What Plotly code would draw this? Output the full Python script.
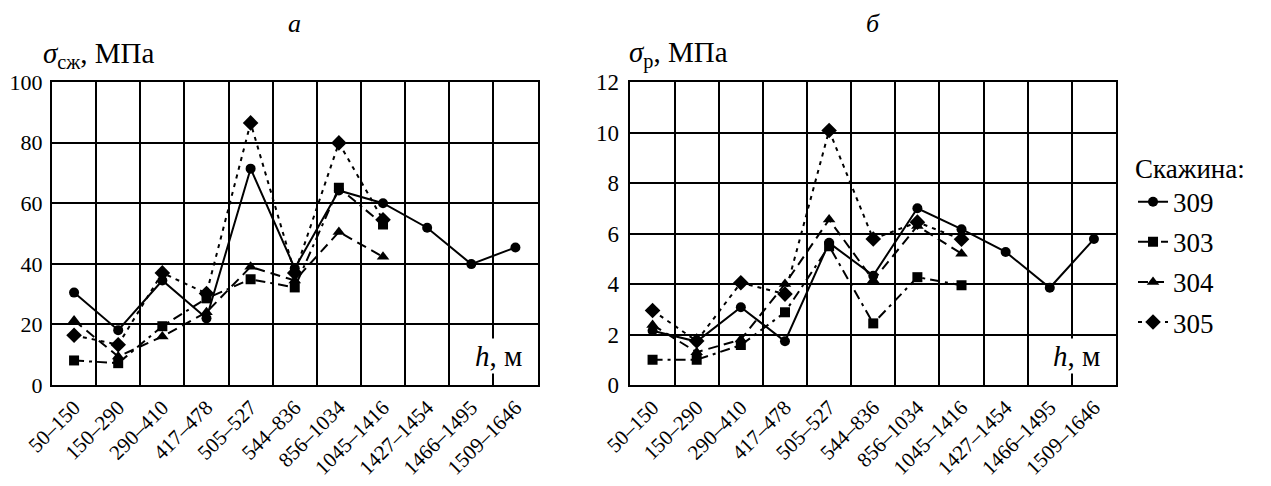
import plotly.graph_objects as go
from plotly.subplots import make_subplots

categories = ["50–150", "150–290", "290–410", "417–478", "505–527", "544–836",
              "856–1034", "1045–1416", "1427–1454", "1466–1495", "1509–1646"]

# compressive strength, MPa (panel a)
comp_309 = [30.5, 18.1, 34.5, 22.0, 71.4, 38.5, 64.2, 60.0, 51.9, 39.9, 45.4]
comp_303 = [8.1, 7.2, 19.4, 28.6, 34.9, 32.2, 65.1, 53.0]
comp_304 = [21.3, 9.4, 16.0, 24.0, 39.0, 34.5, 50.5, 42.3]
comp_305 = [16.4, 13.3, 37.0, 30.2, 86.5, 37.0, 79.9, 54.5]

# tensile strength, MPa (panel b)
tens_309 = [2.15, 1.72, 3.08, 1.73, 5.63, 4.33, 7.0, 6.17, 5.27, 3.85, 5.78]
tens_303 = [1.0, 1.0, 1.58, 2.88, 5.5, 2.44, 4.27, 3.95]
tens_304 = [2.38, 1.3, 1.8, 4.0, 6.55, 4.15, 6.3, 5.2]
tens_305 = [2.95, 1.74, 4.05, 3.6, 10.08, 5.78, 6.45, 5.77]

wells = ["309", "303", "304", "305"]
symbols = ["circle", "square", "triangle-up", "diamond"]
sizes = [10, 10, 11, 12]
dashes = ["solid", "10px,5px,3px,5px", "10px,6px", "4px,5px"]

FONT = "Liberation Serif"

fig = make_subplots(rows=1, cols=2, horizontal_spacing=0.0874)

for i, (name, a, b) in enumerate(zip(wells, [comp_309, comp_303, comp_304, comp_305],
                                     [tens_309, tens_303, tens_304, tens_305])):
    style = dict(mode="lines+markers",
                 line=dict(color="black", width=2, dash=dashes[i]),
                 marker=dict(symbol=symbols[i], size=sizes[i], color="black"))
    fig.add_trace(go.Scatter(x=categories[:len(a)], y=a, name=name, legendgroup=name,
                             showlegend=True, **style), row=1, col=1)
    fig.add_trace(go.Scatter(x=categories[:len(b)], y=b, name=name, legendgroup=name,
                             showlegend=False, **style), row=1, col=2)

xcommon = dict(type="category", categoryorder="array", categoryarray=categories,
               tickson="boundaries", showgrid=True, gridcolor="black", gridwidth=1.6,
               showline=True, linecolor="black", linewidth=2, mirror=True,
               ticks="", tickangle=-45, tickfont=dict(family=FONT, size=21, color="black"),
               range=[-0.5, 10.5], zeroline=False, automargin=False)
ycommon = dict(showgrid=True, gridcolor="black", gridwidth=1.6,
               showline=True, linecolor="black", linewidth=2, mirror=True,
               ticks="", ticklabelstandoff=5, zeroline=False, automargin=False,
               tickfont=dict(family=FONT, size=23, color="black"))

fig.update_xaxes(**xcommon)
fig.update_yaxes(**ycommon)
fig.update_yaxes(range=[0, 100], dtick=20, ticklabelstandoff=3,
                 tickfont=dict(family=FONT, size=22, color="black"), row=1, col=1)
fig.update_yaxes(range=[0, 12], dtick=2, row=1, col=2)

title_font = dict(family=FONT, size=26, color="black")
ann_font = dict(family=FONT, size=29, color="black")
annotations = [
    dict(text="<i>а</i>", xref="x domain", yref="paper", x=0.5, y=1, yshift=42,
         xanchor="center", yanchor="bottom", showarrow=False, font=title_font),
    dict(text="<i>б</i>", xref="x2 domain", yref="paper", x=0.5, y=1, yshift=42,
         xanchor="center", yanchor="bottom", showarrow=False, font=title_font),
    dict(text="<i>σ</i><sub>сж</sub>, МПа", xref="x domain", yref="paper", x=0, y=1,
         xshift=-11, yshift=7, xanchor="left", yanchor="bottom", showarrow=False, font=ann_font),
    dict(text="<i>σ</i><sub>р</sub>, МПа", xref="x2 domain", yref="paper", x=0, y=1,
         xshift=-3, yshift=7, xanchor="left", yanchor="bottom", showarrow=False, font=ann_font),
    dict(text="<i>h</i>, м", xref="x domain", yref="paper", x=1, y=0, xshift=-14, yshift=11,
         xanchor="right", yanchor="bottom", showarrow=False, font=ann_font, bgcolor="white"),
    dict(text="<i>h</i>, м", xref="x2 domain", yref="paper", x=1, y=0, xshift=-14, yshift=11,
         xanchor="right", yanchor="bottom", showarrow=False, font=ann_font, bgcolor="white"),
]

fig.update_layout(
    width=1255, height=470,
    margin=dict(l=44, r=147, t=74, b=93, autoexpand=False),
    paper_bgcolor="white", plot_bgcolor="white",
    font=dict(family=FONT, size=24, color="black"),
    annotations=annotations,
    legend=dict(title=dict(text="Скажина:", font=dict(family=FONT, size=27)),
                x=1.016, y=0.80, xanchor="left", yanchor="top",
                font=dict(family=FONT, size=27), tracegroupgap=2,
                bgcolor="rgba(0,0,0,0)"),
)

fig.write_html("out.html")
